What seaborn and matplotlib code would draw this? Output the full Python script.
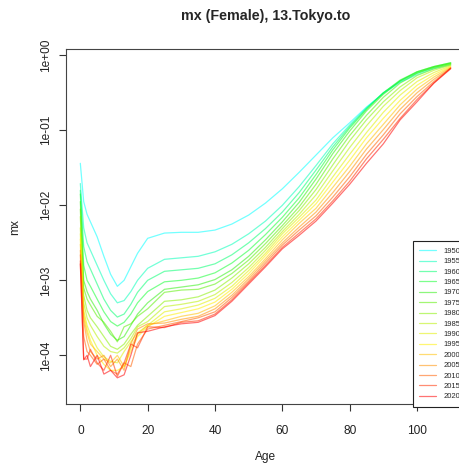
import numpy as np
import pandas as pd
import matplotlib
matplotlib.use("Agg")
import matplotlib.pyplot as plt
from matplotlib.lines import Line2D
import seaborn as sns

ages = [0, 1, 2, 3, 5, 7, 9, 11, 13, 15, 17, 20, 25, 30, 35, 40, 45, 50, 55, 60,
        65, 70, 75, 80, 85, 90, 95, 100, 105, 110]

years = [1950, 1955, 1960, 1965, 1970, 1975, 1980, 1985, 1990, 1995,
         2000, 2005, 2010, 2015, 2020]

# log10(mx)
lmx_1950 = [-1.44, -1.95, -2.12, -2.22, -2.42, -2.68, -2.92, -3.08, -3.00, -2.82, -2.64, -2.44, -2.37, -2.36, -2.36, -2.33, -2.25, -2.13, -1.97, -1.78, -1.56, -1.33, -1.10, -0.90, -0.69, -0.51, -0.36, -0.26, -0.18, -0.13]
lmx_1955 = [-1.71, -2.30, -2.50, -2.60, -2.80, -3.00, -3.18, -3.30, -3.27, -3.15, -3.00, -2.84, -2.72, -2.70, -2.68, -2.62, -2.52, -2.38, -2.21, -2.00, -1.75, -1.47, -1.18, -0.93, -0.70, -0.50, -0.35, -0.24, -0.17, -0.12]
lmx_1960 = [-1.80, -2.55, -2.75, -2.85, -3.05, -3.25, -3.40, -3.49, -3.45, -3.32, -3.16, -3.00, -2.88, -2.86, -2.84, -2.78, -2.66, -2.50, -2.31, -2.09, -1.83, -1.53, -1.22, -0.95, -0.71, -0.50, -0.34, -0.23, -0.16, -0.11]
lmx_1965 = [-1.85, -2.80, -3.00, -3.08, -3.25, -3.42, -3.55, -3.61, -3.56, -3.45, -3.30, -3.15, -3.02, -3.00, -2.97, -2.90, -2.77, -2.60, -2.39, -2.16, -1.90, -1.59, -1.26, -0.97, -0.72, -0.50, -0.33, -0.22, -0.15, -0.10]
lmx_1970 = [-1.95, -3.00, -3.15, -3.25, -3.40, -3.58, -3.72, -3.80, -3.75, -3.60, -3.45, -3.30, -3.12, -3.09, -3.06, -2.99, -2.86, -2.68, -2.46, -2.22, -1.96, -1.65, -1.31, -1.01, -0.74, -0.52, -0.34, -0.22, -0.15, -0.10]
lmx_1975 = [-2.05, -3.10, -3.25, -3.33, -3.48, -3.56, -3.68, -3.82, -3.62, -3.58, -3.48, -3.38, -3.16, -3.13, -3.12, -3.05, -2.91, -2.73, -2.51, -2.27, -2.02, -1.72, -1.38, -1.07, -0.80, -0.56, -0.37, -0.24, -0.16, -0.11]
lmx_1980 = [-2.15, -3.20, -3.40, -3.50, -3.62, -3.75, -3.88, -3.92, -3.85, -3.72, -3.60, -3.48, -3.28, -3.26, -3.22, -3.13, -2.97, -2.78, -2.56, -2.31, -2.07, -1.79, -1.46, -1.14, -0.86, -0.62, -0.42, -0.27, -0.18, -0.12]
lmx_1985 = [-2.30, -3.30, -3.50, -3.60, -3.75, -3.88, -3.95, -3.97, -3.90, -3.78, -3.62, -3.55, -3.35, -3.32, -3.28, -3.19, -3.03, -2.83, -2.60, -2.35, -2.12, -1.86, -1.54, -1.23, -0.94, -0.68, -0.47, -0.30, -0.20, -0.13]
lmx_1990 = [-2.38, -3.40, -3.60, -3.72, -3.90, -4.02, -4.08, -4.10, -3.95, -3.82, -3.70, -3.60, -3.42, -3.38, -3.33, -3.24, -3.08, -2.87, -2.64, -2.38, -2.16, -1.93, -1.62, -1.32, -1.03, -0.76, -0.53, -0.35, -0.23, -0.14]
lmx_1995 = [-2.45, -3.45, -3.65, -3.80, -4.00, -4.12, -4.20, -4.20, -4.15, -3.95, -3.75, -3.62, -3.48, -3.43, -3.38, -3.29, -3.12, -2.91, -2.67, -2.42, -2.20, -1.98, -1.69, -1.40, -1.10, -0.84, -0.60, -0.40, -0.26, -0.15]
lmx_2000 = [-2.52, -3.50, -3.70, -3.85, -3.95, -4.05, -4.10, -4.00, -4.15, -3.90, -3.72, -3.60, -3.54, -3.48, -3.44, -3.34, -3.16, -2.95, -2.71, -2.46, -2.24, -2.04, -1.76, -1.48, -1.18, -0.92, -0.66, -0.45, -0.29, -0.16]
lmx_2005 = [-2.60, -3.55, -3.80, -3.95, -4.05, -4.00, -4.15, -4.05, -4.20, -3.85, -3.65, -3.58, -3.57, -3.52, -3.48, -3.38, -3.20, -2.98, -2.74, -2.50, -2.29, -2.09, -1.83, -1.55, -1.25, -0.99, -0.72, -0.50, -0.32, -0.17]
lmx_2010 = [-2.66, -3.75, -3.95, -4.00, -4.12, -4.05, -4.20, -4.25, -4.10, -4.15, -3.85, -3.65, -3.60, -3.55, -3.50, -3.42, -3.23, -3.01, -2.77, -2.53, -2.33, -2.14, -1.89, -1.62, -1.32, -1.06, -0.78, -0.55, -0.35, -0.17]
lmx_2015 = [-2.74, -4.05, -4.05, -3.92, -4.10, -4.20, -4.00, -4.28, -4.10, -3.85, -3.90, -3.62, -3.63, -3.56, -3.54, -3.45, -3.26, -3.03, -2.80, -2.56, -2.37, -2.18, -1.94, -1.68, -1.38, -1.12, -0.84, -0.59, -0.37, -0.17]
lmx_2020 = [-2.78, -4.06, -4.00, -4.15, -4.00, -4.25, -4.20, -4.30, -4.26, -4.00, -3.70, -3.68, -3.62, -3.58, -3.56, -3.47, -3.28, -3.05, -2.82, -2.58, -2.40, -2.21, -1.97, -1.72, -1.44, -1.18, -0.86, -0.62, -0.37, -0.18]

series = [lmx_1950, lmx_1955, lmx_1960, lmx_1965, lmx_1970, lmx_1975, lmx_1980,
          lmx_1985, lmx_1990, lmx_1995, lmx_2000, lmx_2005, lmx_2010, lmx_2015, lmx_2020]

line_colors = ["#00FFFF", "#00FFB8", "#00FF70", "#10FF30", "#30F010", "#58F000",
               "#88F000", "#B8F000", "#E0F000", "#FFF000", "#FFC000", "#FF9000",
               "#FF6000", "#FF3000", "#FF0000"]

ytick_vals = [1e0, 1e-1, 1e-2, 1e-3, 1e-4]
ytick_labels = ["1e+00", "1e-01", "1e-02", "1e-03", "1e-04"]
xtick_vals = [0, 20, 40, 60, 80, 100]

rows = []
for yr, vals in zip(years, series):
    for a, v in zip(ages, vals):
        rows.append({"Age": a, "mx": 10 ** v, "year": str(yr)})
df = pd.DataFrame(rows)
pal = {str(y): c for y, c in zip(years, line_colors)}

sns.set_style("white")
plt.rcParams["font.family"] = ["Liberation Sans", "DejaVu Sans"]

W, H = 459, 463
fig = plt.figure(figsize=(W / 100, H / 100), dpi=100)
ax = fig.add_axes([65.5 / W, (H - 404) / H, 400 / W, (404 - 49) / H])

sns.lineplot(data=df, x="Age", y="mx", hue="year", palette=pal, ax=ax,
             linewidth=0.9, alpha=0.55, legend=False, estimator=None, sort=False)

ax.set_yscale("log")
ax.set_xlim(-4.4, 114.4)
ax.set_ylim(10 ** -4.649, 10 ** 0.084)
ax.set_yticks(ytick_vals)
ax.set_yticklabels(ytick_labels, rotation=90, va="center")
ax.minorticks_off()
ax.set_xticks(xtick_vals)
ax.set_xticklabels([str(v) for v in xtick_vals])
ax.tick_params(axis="both", direction="out", length=5, width=0.8, color="#333333",
               labelsize=8.6, labelcolor="#222222", left=True, bottom=True)
ax.tick_params(axis="x", pad=10)
ax.tick_params(axis="y", pad=4.5)
for sp in ax.spines.values():
    sp.set_visible(True)
    sp.set_color("#444444")
    sp.set_linewidth(0.8)

ax.set_xlabel("Age", fontsize=8.6, color="#222222", labelpad=10.5)
ax.set_ylabel("mx", fontsize=8.6, color="#222222", labelpad=14)

fig.text(265.5 / W, 1 - 16 / H, "mx (Female), 13.Tokyo.to", ha="center", va="center",
         fontsize=10.3, fontweight="bold")

handles = [Line2D([], [], color=c, linewidth=0.9, alpha=0.55) for c in line_colors]
leg = fig.legend(handles, [str(y) for y in years], loc="upper left",
                 bbox_to_anchor=(413 / W, 1 - 241 / H), fontsize=5.5,
                 frameon=True, fancybox=False, edgecolor="#222222", framealpha=1,
                 handlelength=2.2, handletextpad=0.9, labelspacing=0.40,
                 borderpad=0.85, borderaxespad=0)
leg.get_frame().set_linewidth(0.8)

fig.savefig("out.png", dpi=100)
